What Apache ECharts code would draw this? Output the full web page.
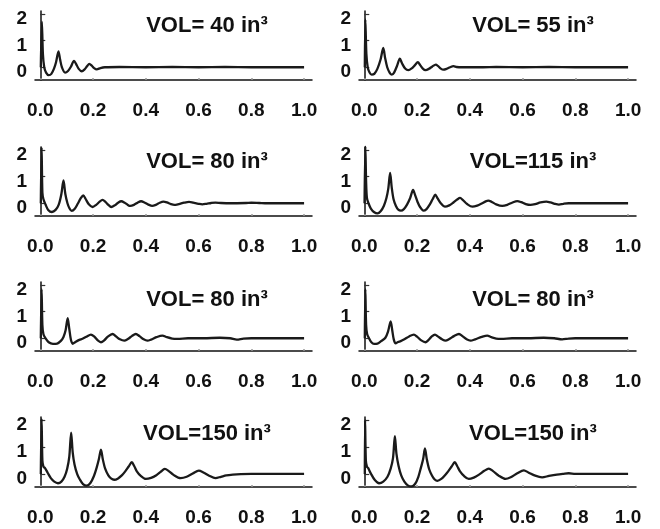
<!DOCTYPE html>
<html>
<head>
<meta charset="utf-8">
<script src="https://cdn.jsdelivr.net/npm/echarts@6/dist/echarts.min.js"></script>
<style>
html,body{margin:0;padding:0;background:#fff}
#chart{width:660px;height:529px}
</style>
</head>
<body>
<div id="chart"></div>
<script>
// panel labels, left to right, top to bottom
var titles = ['VOL= 40 in³', 'VOL= 55 in³', 'VOL= 80 in³', 'VOL=115 in³',
              'VOL= 80 in³', 'VOL= 80 in³', 'VOL=150 in³', 'VOL=150 in³'];
var xTicks = [0, 0.2, 0.4, 0.6, 0.8, 1.0];
var yTicks = [0, 1, 2];

// curves, [x, y]
var curve40 = [[0.002,0],[0.006,1.72],[0.01,0.5],[0.015,0],[0.022,-0.2],[0.032,-0.3],[0.042,-0.25],
  [0.052,-0.05],[0.06,0.2],[0.069,0.6],[0.075,0.3],[0.082,0],[0.094,-0.2],[0.105,-0.14],[0.116,0.02],
  [0.128,0.24],[0.136,0.12],[0.145,-0.05],[0.157,-0.15],[0.168,-0.08],[0.178,0.05],[0.186,0.13],[0.195,0.06],
  [0.204,-0.03],[0.214,-0.08],[0.228,-0.03],[0.245,0],[0.3,0.01],[0.4,0],[0.5,0.01],[0.6,0],[0.7,0.01],
  [0.8,0],[1.0,0]];
var curve55 = [[0.002,0],[0.004,1.8],[0.008,0.5],[0.013,0],[0.02,-0.2],[0.028,-0.28],[0.038,-0.25],
  [0.05,-0.05],[0.062,0.3],[0.072,0.73],[0.079,0.35],[0.087,0],[0.096,-0.2],[0.104,-0.28],[0.113,-0.2],
  [0.124,0.05],[0.135,0.32],[0.143,0.15],[0.155,-0.05],[0.167,-0.11],[0.18,-0.04],[0.192,0.08],[0.203,0.19],
  [0.212,0.08],[0.222,-0.05],[0.232,-0.11],[0.245,-0.06],[0.258,0.03],[0.271,0.1],[0.28,0.04],[0.29,-0.05],
  [0.3,-0.09],[0.312,-0.06],[0.325,0],[0.338,0.04],[0.35,0.01],[0.37,0],[0.45,0],[0.5,0.01],[0.6,0],
  [0.7,0.01],[0.8,0],[1.0,0]];
var curve80a = [[0.002,0],[0.005,2.1],[0.008,0.4],[0.012,0.15],[0.02,-0.05],[0.03,-0.25],[0.044,-0.33],
  [0.058,-0.25],[0.07,-0.05],[0.08,0.35],[0.088,0.86],[0.095,0.35],[0.103,0],[0.111,-0.2],[0.119,-0.29],
  [0.13,-0.22],[0.142,-0.02],[0.153,0.18],[0.163,0.3],[0.172,0.16],[0.184,-0.04],[0.198,-0.14],[0.212,-0.06],
  [0.225,0.06],[0.236,0.125],[0.247,0.05],[0.258,-0.06],[0.269,-0.14],[0.282,-0.08],[0.295,0.02],[0.307,0.075],
  [0.32,0.02],[0.33,-0.05],[0.341,-0.1],[0.355,-0.06],[0.37,0.03],[0.382,0.075],[0.395,0.03],[0.41,-0.05],
  [0.424,-0.1],[0.438,-0.06],[0.453,0.02],[0.467,0.06],[0.48,0.03],[0.495,-0.03],[0.508,-0.06],[0.525,-0.03],
  [0.545,0.02],[0.564,0.05],[0.58,0.02],[0.6,-0.02],[0.614,-0.04],[0.63,-0.02],[0.648,0.01],[0.664,0.025],
  [0.685,0.01],[0.72,0],[0.78,0.01],[0.8,0.02],[0.83,0.01],[0.86,0],[1.0,0]];
var curve115 = [[0.001,0],[0.004,2.15],[0.007,0.8],[0.01,0.2],[0.016,0],[0.025,-0.2],[0.038,-0.34],
  [0.05,-0.38],[0.062,-0.3],[0.074,-0.1],[0.084,0.2],[0.091,0.55],[0.098,1.14],[0.104,0.6],[0.111,0.15],
  [0.12,-0.1],[0.129,-0.24],[0.139,-0.28],[0.15,-0.22],[0.162,-0.05],[0.174,0.2],[0.185,0.5],[0.193,0.3],
  [0.202,0.05],[0.212,-0.15],[0.224,-0.28],[0.236,-0.22],[0.248,-0.05],[0.259,0.15],[0.269,0.32],[0.278,0.18],
  [0.29,0],[0.306,-0.13],[0.322,-0.08],[0.338,0.03],[0.352,0.14],[0.363,0.2],[0.374,0.12],[0.39,-0.03],
  [0.41,-0.13],[0.428,-0.09],[0.447,0],[0.46,0.07],[0.47,0.1],[0.482,0.06],[0.5,-0.04],[0.523,-0.1],
  [0.542,-0.06],[0.562,0.03],[0.58,0.08],[0.595,0.04],[0.612,-0.03],[0.63,-0.06],[0.648,-0.03],[0.668,0.03],
  [0.69,0.06],[0.706,0.03],[0.722,-0.02],[0.738,-0.05],[0.755,-0.02],[0.775,0],[1.0,0]];
var curve80b = [[0.002,0],[0.005,1.85],[0.008,0.5],[0.012,0.15],[0.02,0],[0.032,-0.15],[0.048,-0.21],
  [0.064,-0.2],[0.078,-0.1],[0.088,0.05],[0.096,0.3],[0.104,0.76],[0.11,0.35],[0.116,-0.05],[0.123,-0.21],
  [0.132,-0.15],[0.148,-0.06],[0.16,-0.02],[0.175,0.06],[0.192,0.14],[0.205,0.06],[0.218,-0.08],[0.23,-0.15],
  [0.242,-0.08],[0.256,0.06],[0.274,0.16],[0.288,0.06],[0.302,-0.04],[0.318,-0.09],[0.332,-0.03],[0.347,0.08],
  [0.362,0.16],[0.376,0.08],[0.392,-0.04],[0.406,-0.09],[0.42,-0.05],[0.44,0.04],[0.463,0.1],[0.48,0.04],
  [0.5,-0.01],[0.52,-0.02],[0.56,0],[0.62,0],[0.68,0.02],[0.72,0],[0.745,-0.05],[0.77,-0.01],[0.8,0],[1.0,0]];
var curve80c = [[0.002,0],[0.004,1.85],[0.007,0.5],[0.011,0.15],[0.018,0],[0.027,-0.15],[0.037,-0.21],
  [0.05,-0.2],[0.065,-0.1],[0.08,0.02],[0.09,0.25],[0.1,0.64],[0.106,0.3],[0.112,-0.05],[0.119,-0.19],
  [0.128,-0.14],[0.138,-0.11],[0.152,-0.04],[0.17,0.07],[0.188,0.14],[0.2,0.06],[0.216,-0.08],[0.232,-0.15],
  [0.243,-0.07],[0.255,0.06],[0.268,0.14],[0.28,0.06],[0.295,-0.04],[0.308,-0.09],[0.322,-0.03],[0.34,0.08],
  [0.359,0.16],[0.372,0.08],[0.388,-0.04],[0.403,-0.09],[0.42,-0.04],[0.445,0.05],[0.466,0.1],[0.482,0.04],
  [0.5,-0.01],[0.52,-0.02],[0.56,0],[0.62,0],[0.68,0.02],[0.72,0],[0.75,-0.04],[0.775,-0.01],[0.8,0],[1.0,0]];
var curve150a = [[0.002,0],[0.005,2.05],[0.008,0.5],[0.012,0.28],[0.018,0.22],[0.028,0.05],[0.04,-0.15],
  [0.053,-0.28],[0.067,-0.34],[0.08,-0.28],[0.092,-0.1],[0.102,0.2],[0.11,0.65],[0.117,1.54],[0.123,0.8],
  [0.13,0.35],[0.14,0],[0.15,-0.2],[0.162,-0.37],[0.176,-0.43],[0.19,-0.33],[0.203,-0.08],[0.214,0.25],
  [0.222,0.55],[0.23,0.91],[0.237,0.55],[0.246,0.2],[0.258,-0.05],[0.268,-0.16],[0.28,-0.21],[0.295,-0.16],
  [0.31,-0.04],[0.322,0.1],[0.335,0.28],[0.347,0.44],[0.356,0.3],[0.366,0.1],[0.38,-0.06],[0.4,-0.18],
  [0.42,-0.14],[0.44,-0.04],[0.456,0.08],[0.472,0.19],[0.486,0.12],[0.505,-0.03],[0.532,-0.15],[0.555,-0.1],
  [0.578,0.02],[0.601,0.125],[0.618,0.06],[0.64,-0.06],[0.664,-0.15],[0.685,-0.1],[0.705,-0.05],[0.73,-0.02],
  [0.76,0],[0.8,0.01],[1.0,0.01]];
var curve150b = [[0.002,0],[0.003,2.0],[0.006,0.5],[0.01,0.28],[0.015,0.22],[0.025,0.02],[0.04,-0.22],
  [0.056,-0.34],[0.072,-0.28],[0.088,-0.1],[0.1,0.2],[0.109,0.6],[0.116,1.41],[0.122,0.75],[0.13,0.3],
  [0.14,-0.05],[0.152,-0.28],[0.165,-0.42],[0.179,-0.46],[0.193,-0.36],[0.205,-0.1],[0.215,0.25],[0.223,0.55],
  [0.23,0.95],[0.237,0.55],[0.246,0.18],[0.257,-0.06],[0.267,-0.2],[0.277,-0.25],[0.292,-0.18],[0.306,-0.04],
  [0.318,0.1],[0.331,0.28],[0.343,0.44],[0.352,0.3],[0.363,0.1],[0.378,-0.07],[0.396,-0.18],[0.415,-0.13],
  [0.435,-0.02],[0.455,0.12],[0.472,0.2],[0.487,0.12],[0.51,-0.06],[0.535,-0.18],[0.555,-0.12],[0.58,0.03],
  [0.605,0.14],[0.622,0.06],[0.648,-0.06],[0.674,-0.12],[0.7,-0.07],[0.73,-0.02],[0.755,0.01],[0.775,0.03],
  [0.8,0.01],[1.0,0.01]];

var curves = [curve40, curve55, curve80a, curve115, curve80b, curve80c, curve150a, curve150b];

var colLeft = [35, 359];
var rowTop = [11, 147, 282, 417];
var rowH = [69, 69, 69, 70];
var titleX = [207, 533];
var titleY = [26, 162, 300, 434];
var font = 'Liberation Sans, Arial, sans-serif';

var grids = [], xAxes = [], yAxes = [], series = [], graphics = [];
for (var i = 0; i < curves.length; i++) {
  var r = Math.floor(i / 2), c = i % 2;
  grids.push({left: colLeft[c], top: rowTop[r], width: 277, height: rowH[r], outerBoundsMode: 'none'});
  xAxes.push({
    type: 'value', gridIndex: i, min: -0.02, max: 1.03,
    axisLine: {show: true, onZero: false, lineStyle: {color: '#111', width: 1.5}},
    axisTick: {show: true, inside: true, length: 2, customValues: xTicks, lineStyle: {color: '#999', width: 1.5}},
    axisLabel: {customValues: xTicks, margin: 21, color: '#111', fontSize: 19, fontWeight: 'bold', fontFamily: font,
      formatter: function (v) { return v.toFixed(1); }},
    splitLine: {show: false}
  });
  yAxes.push({
    type: 'value', gridIndex: i, min: -0.48, max: 2.12,
    axisLine: {show: true, lineStyle: {color: '#111', width: 1.5}},
    axisTick: {show: true, inside: true, length: 5, customValues: yTicks, lineStyle: {color: '#333', width: 1.2}},
    axisLabel: {customValues: yTicks, margin: 8, color: '#111', fontSize: 19, fontWeight: 'bold', fontFamily: font,
      verticalAlign: 'top', lineHeight: 10},
    splitLine: {show: false}
  });
  series.push({
    type: 'line', xAxisIndex: i, yAxisIndex: i, data: curves[i],
    symbol: 'none', smooth: 0.3,
    lineStyle: {color: '#1a1a1a', width: 2.3}
  });
  graphics.push({
    type: 'text', x: titleX[c], y: titleY[r],
    style: {text: titles[i], fill: '#111', font: 'bold 22px ' + font, textAlign: 'center', textVerticalAlign: 'middle'}
  });
}

var myChart = echarts.init(document.getElementById('chart'));
myChart.setOption({
  animation: false,
  backgroundColor: '#fff',
  grid: grids,
  xAxis: xAxes,
  yAxis: yAxes,
  series: series,
  graphic: graphics
});
</script>
</body>
</html>
